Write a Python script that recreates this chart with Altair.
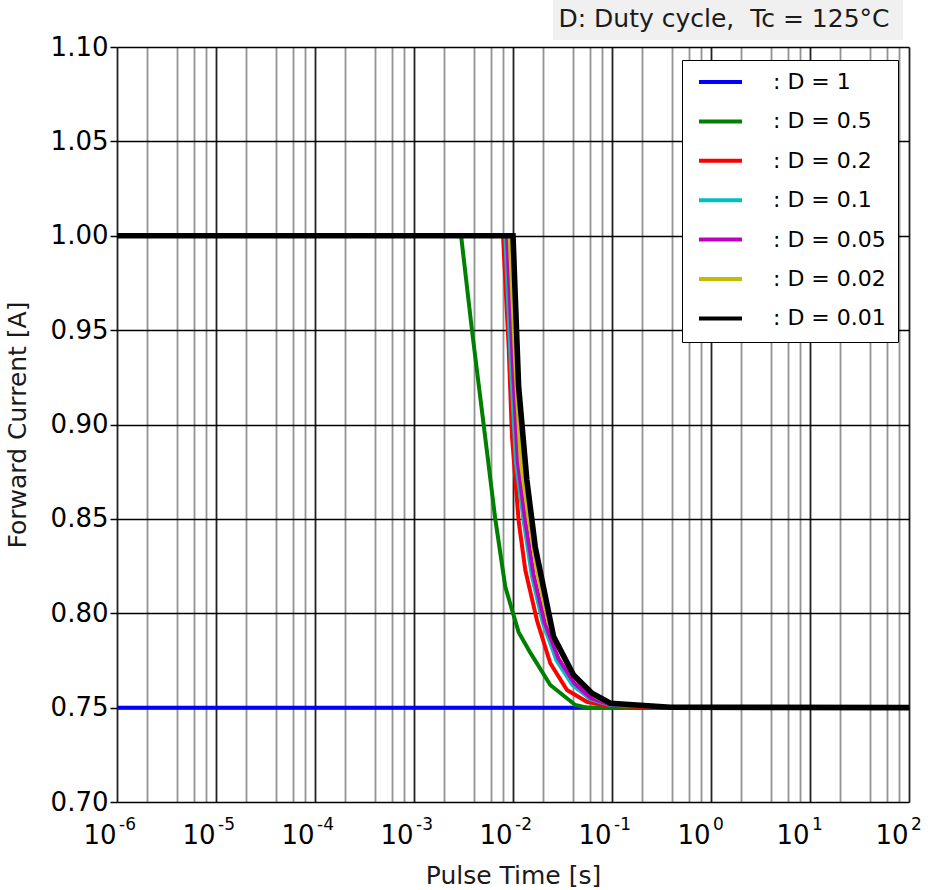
import altair as alt
import pandas as pd

# ---------------- data ----------------
labels = [": D = 1", ": D = 0.5", ": D = 0.2", ": D = 0.1", ": D = 0.05", ": D = 0.02", ": D = 0.01"]
colors = ["#0000ff", "#008000", "#ff0000", "#00bfbf", "#bf00bf", "#bfbf00", "#000000"]
widths = [4.0, 4.0, 4.0, 4.0, 4.0, 4.0, 5.6]

t_d1 = [1e-6, 1e2]
i_d1 = [0.75, 0.75]

t_d05 = [1e-6, 0.00299, 0.00385, 0.00505, 0.00662, 0.00836, 0.0100, 0.0114, 0.0150, 0.0238, 0.0426, 0.0558, 1e2]
i_d05 = [1.0, 1.0, 0.95, 0.90, 0.85, 0.814, 0.800, 0.790, 0.779, 0.762, 0.7514, 0.750, 0.750]

t_d02 = [1e-6, 0.00793, 0.00904, 0.00977, 0.0114, 0.0133, 0.0175, 0.0238, 0.0351, 0.0558, 0.0891, 0.389, 1e2]
i_d02 = [1.0, 1.0, 0.941, 0.8935, 0.849, 0.823, 0.796, 0.7735, 0.7593, 0.7531, 0.7510, 0.7500, 0.7500]

t_d01 = [1e-6, 0.00836, 0.00955, 0.0107, 0.0128, 0.0155, 0.0200, 0.0275, 0.0398, 0.0603, 0.0933, 0.389, 1e2]
i_d01 = [1.0, 1.0, 0.93, 0.88, 0.849, 0.820, 0.795, 0.775, 0.762, 0.7545, 0.7515, 0.7502, 0.7500]

t_d005 = [1e-6, 0.00871, 0.0100, 0.0112, 0.0133, 0.0162, 0.0209, 0.0288, 0.0417, 0.0617, 0.0933, 0.389, 1e2]
i_d005 = [1.0, 1.0, 0.93, 0.88, 0.849, 0.820, 0.795, 0.776, 0.763, 0.755, 0.7518, 0.7502, 0.7500]

t_d002 = [1e-6, 0.00925, 0.0106, 0.0120, 0.0145, 0.0178, 0.0229, 0.0316, 0.0457, 0.0676, 0.0955, 0.389, 1e2]
i_d002 = [1.0, 1.0, 0.93, 0.88, 0.849, 0.820, 0.795, 0.777, 0.764, 0.756, 0.752, 0.7502, 0.7500]

t_d001 = [1e-6, 0.0100, 0.0114, 0.0138, 0.0168, 0.0257, 0.0409, 0.0628, 0.0962, 0.389, 1e2]
i_d001 = [1.0, 1.0, 0.92, 0.8706, 0.835, 0.7876, 0.7673, 0.7576, 0.7523, 0.7502, 0.7500]

series_t = [t_d1, t_d05, t_d02, t_d01, t_d005, t_d002, t_d001]
series_i = [i_d1, i_d05, i_d02, i_d01, i_d005, i_d002, i_d001]

y_ticks = [0.70, 0.75, 0.80, 0.85, 0.90, 0.95, 1.00, 1.05, 1.10]
x_exps = [-6, -5, -4, -3, -2, -1, 0, 1, 2]
x_grid = [m * 10.0 ** e for e in range(-6, 2) for m in (1, 2, 4, 6, 8)] + [1e2]

annotation = "D: Duty cycle,\u00a0\u00a0Tc = 125°C"

# ---------------- build table ----------------
rows = []
for k, (lab, ts, cs) in enumerate(zip(labels, series_t, series_i)):
    for t, c in zip(ts, cs):
        rows.append({"series": lab, "order": k, "t": t, "I": c, "w": widths[k]})
df = pd.DataFrame(rows)
exp_df = pd.DataFrame({"t": [10.0 ** e for e in x_exps], "exp": [str(e) for e in x_exps]})

W, H = 792, 755
FONT = "DejaVu Sans"

is_major = "abs(log(datum.value)/LN10 - round(log(datum.value)/LN10)) < 1e-6"

x_enc = alt.X(
    "t:Q",
    scale=alt.Scale(type="log", domain=[1e-6, 1e2], nice=False),
    axis=alt.Axis(
        values=x_grid,
        labelExpr=f"({is_major}) ? '10' : ''",
        labelAlign="right",
        labelOffset=-1,
        labelBaseline="alphabetic",
        labelPadding=41,
        labelFont=FONT,
        labelFontSize=26,
        labelColor="#000",
        labelFlush=False,
        labelOverlap=False,
        labelBound=False,
        ticks=False,
        tickSize=0,
        domain=False,
        grid=True,
        gridColor={"condition": {"test": is_major, "value": "#222222"}, "value": "#929292"},
        gridWidth=1.8,
        gridOpacity=1,
        title="Pulse Time [s]",
        titleFont=FONT,
        titleFontSize=25,
        titleFontWeight="normal",
        titleColor="#1a1a1a",
        titleX=W / 2,
        titleY=81,
        titleBaseline="alphabetic",
        titleAnchor="middle",
    ),
)

y_enc = alt.Y(
    "I:Q",
    scale=alt.Scale(domain=[0.70, 1.10], nice=False, zero=False),
    axis=alt.Axis(
        values=y_ticks,
        format=".2f",
        labelFont=FONT,
        labelFontSize=26,
        labelColor="#000",
        labelPadding=2,
        ticks=True,
        tickSize=7,
        tickColor="#000",
        tickWidth=1.5,
        domain=False,
        grid=True,
        gridColor="#000",
        gridWidth=1.4,
        gridOpacity=1,
        title="Forward Current [A]",
        titleFont=FONT,
        titleFontSize=25,
        titleFontWeight="normal",
        titleColor="#1a1a1a",
        titleX=-92,
        titleY=H / 2,
        titleBaseline="alphabetic",
        titleAnchor="middle",
        titleAngle=-90,
    ),
)

lines = alt.Chart(df).mark_line(clip=True, strokeJoin="miter", strokeCap="butt").encode(
    x=x_enc,
    y=y_enc,
    color=alt.Color(
        "series:N",
        sort=labels,
        scale=alt.Scale(domain=labels, range=colors),
        legend=alt.Legend(
            title=None,
            orient="none",
            legendX=565,
            legendY=13,
            symbolType="stroke",
            symbolSize=1849,
            symbolStrokeWidth=4,
            symbolOffset=3,
            labelFont=FONT,
            labelFontSize=22,
            labelColor="#000",
            labelOffset=29,
            clipHeight=20,
            rowPadding=17.4,
            padding=12,
            strokeColor="#000",
            fillColor="#fff",
        ),
    ),
    strokeWidth=alt.StrokeWidth("w:Q", scale=None),
    order=alt.Order("order:Q"),
    detail="order:N",
)

exps = alt.Chart(exp_df).mark_text(
    align="left", baseline="alphabetic", dx=2, dy=28,
    font=FONT, fontSize=17, color="#000",
).encode(
    x=alt.X("t:Q", scale=alt.Scale(type="log", domain=[1e-6, 1e2], nice=False)),
    y=alt.datum(0.70),
    text="exp:N",
)

box = alt.Chart(pd.DataFrame({"a": [0]})).mark_rect(color="#f0f0f0").encode(
    x=alt.value(436), x2=alt.value(786), y=alt.value(-47), y2=alt.value(-7)
)
box_text = alt.Chart(pd.DataFrame({"a": [0]})).mark_text(
    text=annotation, font=FONT, fontSize=25, color="#1a1a1a",
    align="center", baseline="alphabetic",
).encode(x=alt.value(607), y=alt.value(-20))

chart = alt.layer(lines, exps, box, box_text).properties(
    width=W, height=H,
    autosize=alt.AutoSizeParams(type="none"),
    padding={"left": 117, "top": 47, "right": 22, "bottom": 88},
).configure_view(
    stroke="#000", strokeWidth=3
).configure_legend(
    strokeWidth=3
).configure(background="white")

chart.save("out.html", embed_options={"renderer": "svg", "actions": False})
